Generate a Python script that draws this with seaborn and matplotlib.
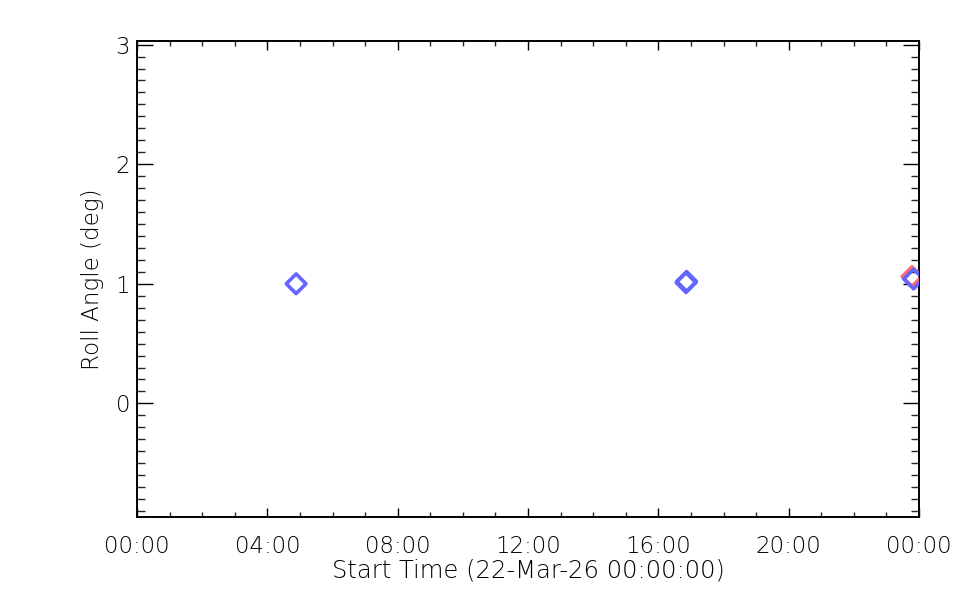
import matplotlib
matplotlib.use("Agg")
import matplotlib.pyplot as plt
import matplotlib.dates as mdates
import seaborn as sns
import pandas as pd
import numpy as np

# Data
blue_times = ["2026-03-22 04:53", "2026-03-22 16:51", "2026-03-22 16:52", "2026-03-22 23:50"]
blue_roll = [1.00, 1.01, 1.02, 1.04]
red_times = ["2026-03-22 23:47"]
red_roll = [1.06]

x_start = "2026-03-22 00:00"
x_end = "2026-03-23 00:00"
y_min, y_max = -0.95, 3.03
y_ticks = [0, 1, 2, 3]

blue = "#6464ff"
red = "#ff6e6e"

sns.set_theme(style="white")
plt.rcParams["font.family"] = ["DejaVu Sans"]
plt.rcParams["text.color"] = "black"
plt.rcParams["axes.labelcolor"] = "black"

fig = plt.figure(figsize=(9.6, 6.0), dpi=100)
ax = fig.add_axes([137/960, 1-517/600, (919-137)/960, (517-41)/600])

df_b = pd.DataFrame({"t": pd.to_datetime(blue_times), "roll": blue_roll})
df_r = pd.DataFrame({"t": pd.to_datetime(red_times), "roll": red_roll})

sns.scatterplot(data=df_r, x="t", y="roll", ax=ax, marker="D", s=100, color=red, zorder=3)
sns.scatterplot(data=df_b, x="t", y="roll", ax=ax, marker="D", s=100, color=blue, zorder=4)
for coll, c in zip(ax.collections, [red, blue]):
    coll.set_facecolor("none")
    coll.set_edgecolor(c)
    coll.set_linewidth(2.6)

ax.set_xlim(pd.Timestamp(x_start), pd.Timestamp(x_end))
ax.set_ylim(y_min, y_max)
ax.set_yticks(y_ticks)
ax.yaxis.set_minor_locator(matplotlib.ticker.MultipleLocator(0.1))
ax.xaxis.set_minor_locator(mdates.HourLocator())

ticks = list(mdates.date2num(pd.date_range(x_start, x_end, freq="4h")))
ax.set_xticks(ticks)
ax.set_xticklabels([pd.Timestamp(mdates.num2date(t)).strftime("%H:%M") for t in ticks])

for s in ax.spines.values():
    s.set_visible(True)
    s.set_color("black")
    s.set_linewidth(1.4)

ax.tick_params(axis="x", which="major", direction="in", length=6.5, width=1, top=True, bottom=True,
               labelsize=16.5, pad=13, colors="black", labelcolor="black")
ax.tick_params(axis="x", which="minor", direction="in", length=3.6, width=1, top=True, bottom=True)
ax.tick_params(axis="y", which="major", direction="in", length=11.5, width=1, left=True, right=True,
               labelsize=16.5, pad=5, colors="black", labelcolor="black")
ax.tick_params(axis="y", which="minor", direction="in", length=5.8, width=1, left=True, right=True)
for lab in ax.get_xticklabels() + ax.get_yticklabels():
    lab.set_fontweight("light")

ax.set_xlabel("Start Time (22-Mar-26 00:00:00)", fontsize=17.5, color="black", labelpad=0,
              fontweight="light")
ax.set_ylabel("Roll Angle (deg)", fontsize=16.6, color="black", labelpad=8, fontweight="light")
ax.grid(False)

fig.savefig("out.png", dpi=100, facecolor="white")
